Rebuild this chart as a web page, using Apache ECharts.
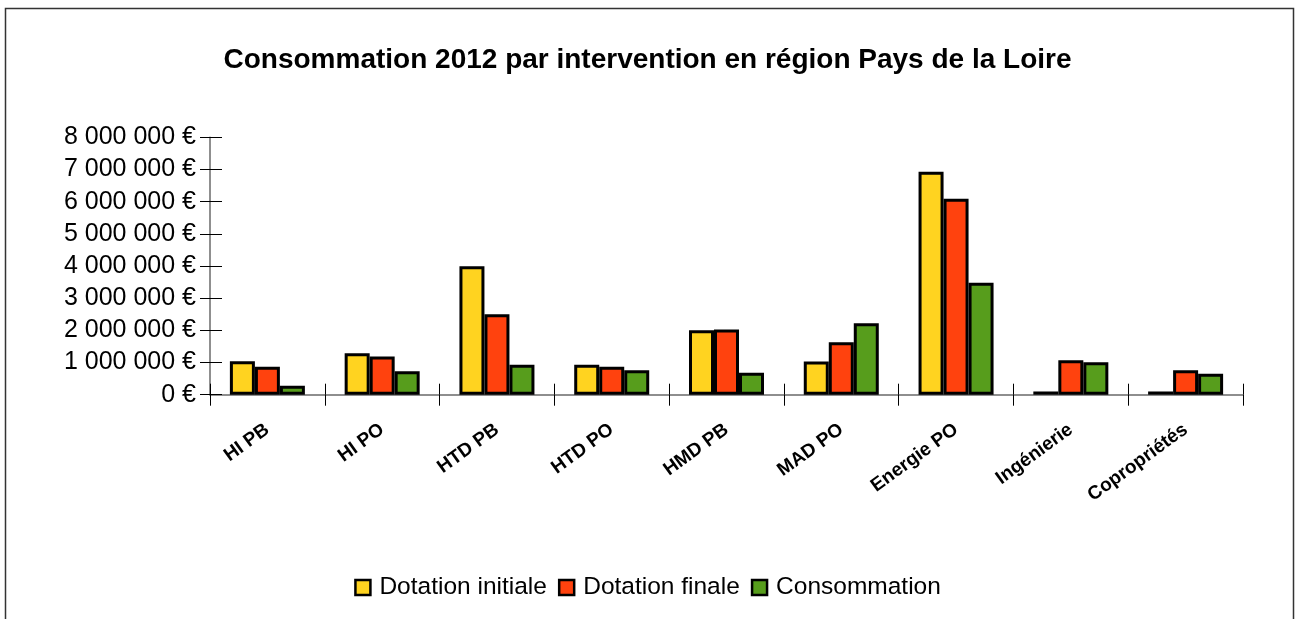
<!DOCTYPE html>
<html>
<head>
<meta charset="utf-8">
<script src="https://cdn.jsdelivr.net/npm/echarts@6/dist/echarts.min.js"></script>
<style>
html,body{margin:0;padding:0;background:#fff;}
#chart{width:1295px;height:619px;}
</style>
</head>
<body>
<div id="chart"></div>
<script>
const categories = ['HI PB','HI PO','HTD PB','HTD PO','HMD PB','MAD PO','Energie PO','Ingénierie','Copropriétés'];
const dotationInitiale = [1040000,1290000,3990000,930000,2000000,1030000,6930000,100000,100000];
const dotationFinale   = [870000,1190000,2500000,870000,2030000,1630000,6090000,1070000,760000];
const consommation     = [280000,730000,930000,760000,680000,2220000,3480000,1010000,650000];
const yTickLabels = ['0 €','1 000 000 €','2 000 000 €','3 000 000 €','4 000 000 €','5 000 000 €','6 000 000 €','7 000 000 €','8 000 000 €'];
const seriesNames = ['Dotation initiale','Dotation finale','Consommation'];
const colors = ['#FFD320','#FF420E','#579D1C'];

const chart = echarts.init(document.getElementById('chart'), null, {renderer:'canvas'});
const FONT = '"Liberation Sans", Arial, sans-serif';
const mkSeries = (name, data, color) => ({
  name, type:'bar', data, xAxisIndex:0, yAxisIndex:0,
  barWidth:25, barGap:'0%',
  itemStyle:{color, borderColor:'#000', borderWidth:3},
  emphasis:{disabled:true}
});
chart.setOption({
  animation:false,
  backgroundColor:'#fff',
  title:{
    text:'Consommation 2012 par intervention en région Pays de la Loire',
    left:'center', top:41,
    textStyle:{fontFamily:FONT, fontSize:28, fontWeight:'bold', color:'#000'}
  },
  legend:{
    bottom:14, left:'center',
    itemWidth:15, itemHeight:15, itemGap:11,
    icon:'rect',
    textStyle:{fontFamily:FONT, fontSize:24.5, color:'#000', padding:[0,0,0,4]},
    itemStyle:{borderColor:'#000', borderWidth:2.5},
    data:seriesNames
  },
  grid:{left:210, right:52, top:137.3, bottom:224.3, containLabel:false},
  xAxis:[{
    type:'category', data:categories, position:'bottom',
    axisLine:{lineStyle:{color:'#6a6a6a', width:1.5}},
    axisTick:{show:true, inside:false, length:11, lineStyle:{color:'#000'}},
    axisLabel:{rotate:36, margin:33, fontFamily:FONT, fontSize:19, fontWeight:'bold', color:'#000', interval:0},
    splitLine:{show:false}
  },{
    type:'category', data:categories, position:'bottom', gridIndex:0,
    axisLine:{show:false},
    axisTick:{show:true, inside:true, length:11, lineStyle:{color:'#000'}},
    axisLabel:{show:false}, splitLine:{show:false}
  }],
  yAxis:[{
    type:'value', min:0, max:8000000, interval:1000000,
    axisLine:{show:true, lineStyle:{color:'#6a6a6a', width:1.5}},
    axisTick:{show:true, inside:false, length:10, lineStyle:{color:'#000'}},
    axisLabel:{margin:14, fontFamily:FONT, fontSize:25, color:'#000',
      formatter:(v)=>yTickLabels[Math.round(v/1000000)]},
    splitLine:{show:false}
  },{
    type:'value', min:0, max:8000000, interval:1000000, position:'left',
    axisLine:{show:false},
    axisTick:{show:true, inside:true, length:12, lineStyle:{color:'#000'}},
    axisLabel:{show:false}, splitLine:{show:false}
  }],
  graphic:[{
    type:'rect', silent:true, z:-1,
    shape:{x:5.5, y:8.5, width:1288, height:700},
    style:{fill:'none', stroke:'#333', lineWidth:1.5}
  }],
  series:[
    mkSeries(seriesNames[0], dotationInitiale, colors[0]),
    mkSeries(seriesNames[1], dotationFinale, colors[1]),
    mkSeries(seriesNames[2], consommation, colors[2])
  ]
});
</script>
</body>
</html>
